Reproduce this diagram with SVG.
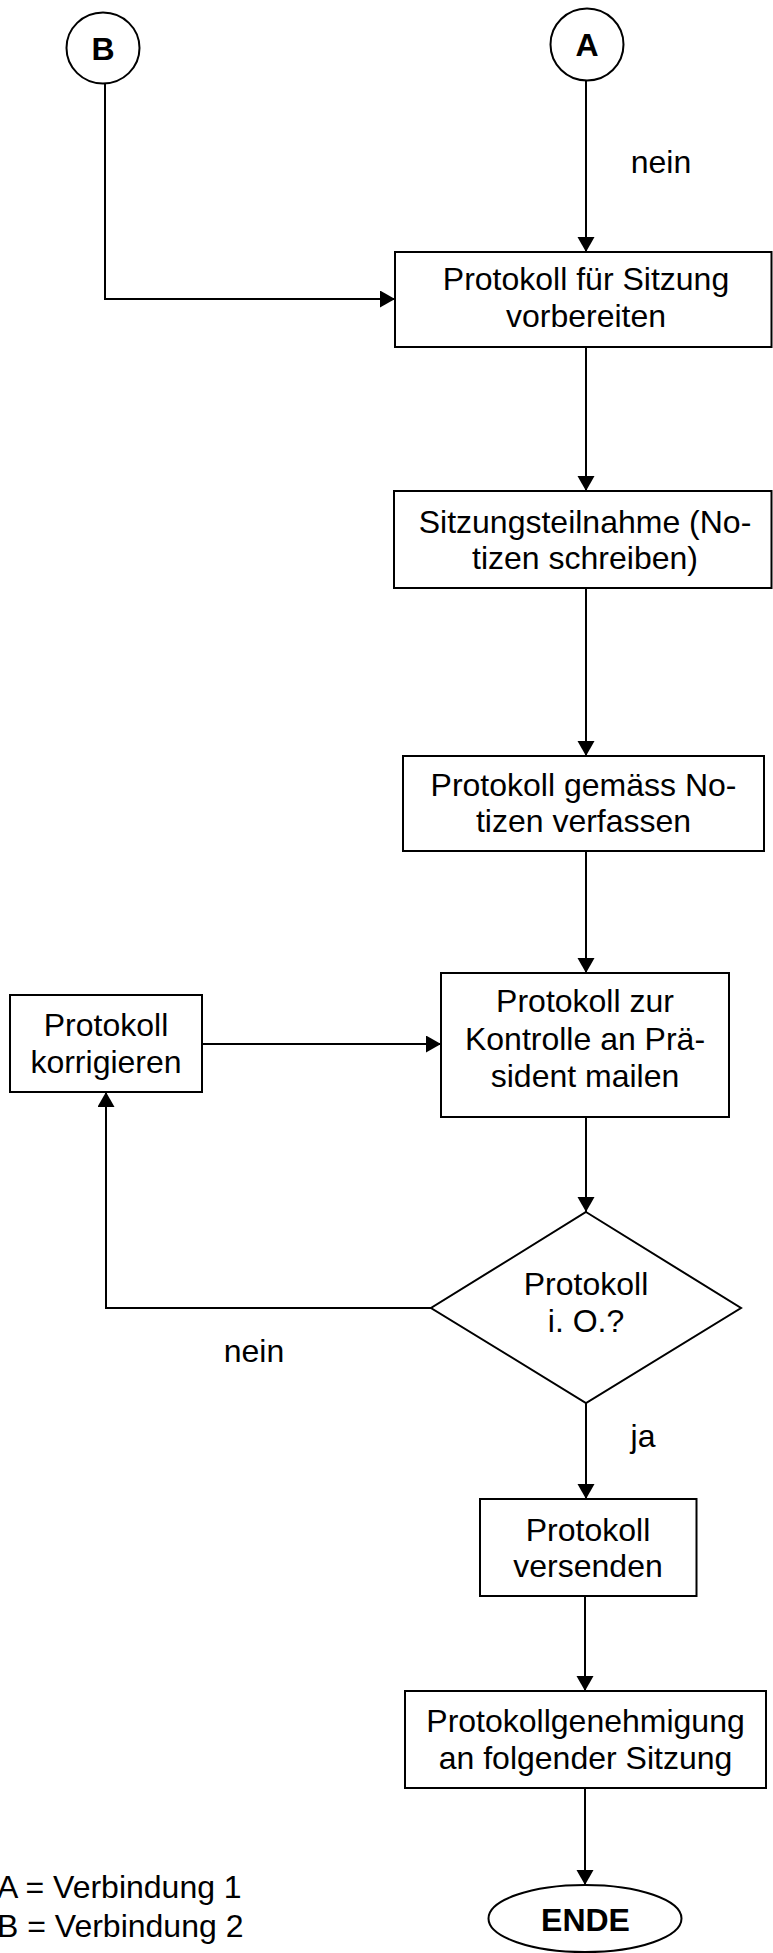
<svg xmlns="http://www.w3.org/2000/svg" width="773" height="1953" viewBox="0 0 773 1953">
<defs>
<style>
.box{fill:#fff;stroke:#000;stroke-width:2}
.t{font-family:"Liberation Sans",Arial,sans-serif;font-size:32px;fill:#000;text-anchor:middle}
.b{font-weight:bold}
.c{fill:none;stroke:#000;stroke-width:2}
</style>
<marker id="ah" markerUnits="userSpaceOnUse" markerWidth="16" markerHeight="18" refX="15" refY="8.5" orient="auto">
<path d="M0,0 L15,8.5 L0,17 z" fill="#000"/>
</marker>
</defs>
<rect width="773" height="1953" fill="#fff"/>
<g id="connectors">
<path class="c" d="M105,84 V299 H395" marker-end="url(#ah)"/>
<path class="c" d="M586,81 V252" marker-end="url(#ah)"/>
<path class="c" d="M586,347 V491" marker-end="url(#ah)"/>
<path class="c" d="M586,588 V756" marker-end="url(#ah)"/>
<path class="c" d="M586,851 V973" marker-end="url(#ah)"/>
<path class="c" d="M586,1117 V1212" marker-end="url(#ah)"/>
<path class="c" d="M431,1308 H106 V1092" marker-end="url(#ah)"/>
<path class="c" d="M202,1044 H441" marker-end="url(#ah)"/>
<path class="c" d="M586,1403 V1499" marker-end="url(#ah)"/>
<path class="c" d="M585,1596 V1691" marker-end="url(#ah)"/>
<path class="c" d="M585,1788 V1885" marker-end="url(#ah)"/>
<text class="t" x="661" y="173">nein</text>
<text class="t" x="254" y="1362">nein</text>
<text class="t" x="643" y="1447">ja</text>
</g>
<g id="nodeB">
<ellipse class="box" cx="103" cy="48" rx="36.5" ry="35.5"/>
<text class="t b" x="103" y="60">B</text>
</g>
<g id="nodeA">
<ellipse class="box" cx="587" cy="44.5" rx="36.5" ry="36"/>
<text class="t b" x="587" y="56">A</text>
</g>
<g id="vorbereiten">
<rect class="box" x="395" y="252" width="376.5" height="95"/>
<text class="t" x="586" y="289.5">Protokoll für Sitzung</text>
<text class="t" x="586" y="326.5">vorbereiten</text>
</g>
<g id="teilnahme">
<rect class="box" x="394" y="491" width="377.5" height="97"/>
<text class="t" x="585" y="532.5">Sitzungsteilnahme (No-</text>
<text class="t" x="585" y="568.5">tizen schreiben)</text>
</g>
<g id="verfassen">
<rect class="box" x="403" y="756" width="361" height="95"/>
<text class="t" x="583.5" y="795.5">Protokoll gemäss No-</text>
<text class="t" x="583.5" y="832">tizen verfassen</text>
</g>
<g id="mailen">
<rect class="box" x="441" y="973" width="288" height="144"/>
<text class="t" x="585" y="1012">Protokoll zur</text>
<text class="t" x="585" y="1049.5">Kontrolle an Prä-</text>
<text class="t" x="585" y="1086.5">sident mailen</text>
</g>
<g id="korrigieren">
<rect class="box" x="10" y="995" width="192" height="97"/>
<text class="t" x="106" y="1035.5">Protokoll</text>
<text class="t" x="106" y="1072.5">korrigieren</text>
</g>
<g id="entscheid">
<polygon class="box" points="586,1212 741,1308 586,1403 431,1308"/>
<text class="t" x="586" y="1295">Protokoll</text>
<text class="t" x="586" y="1331.5">i. O.?</text>
</g>
<g id="versenden">
<rect class="box" x="480" y="1499" width="216.5" height="97"/>
<text class="t" x="588" y="1540.5">Protokoll</text>
<text class="t" x="588" y="1577">versenden</text>
</g>
<g id="genehmigung">
<rect class="box" x="405" y="1691" width="361" height="97"/>
<text class="t" x="585.5" y="1732">Protokollgenehmigung</text>
<text class="t" x="585.5" y="1769">an folgender Sitzung</text>
</g>
<g id="ende">
<ellipse class="box" cx="585" cy="1918.5" rx="96.5" ry="33.5"/>
<text class="t b" x="585.5" y="1931">ENDE</text>
</g>
<g id="legende">
<text class="t" style="text-anchor:start" x="-3" y="1898">A = Verbindung 1</text>
<text class="t" style="text-anchor:start" x="-3" y="1936.5">B = Verbindung 2</text>
</g>
</svg>
